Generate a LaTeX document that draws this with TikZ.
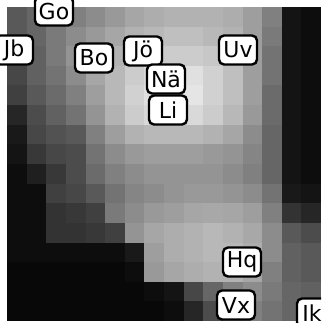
\documentclass[tikz,border=0pt]{standalone}
\usepackage{fontspec}
\setmainfont{DejaVu Sans}
\begin{document}
\begin{tikzpicture}[x=1pt,y=-1pt,
  tag/.style={draw=black, line width=2.4pt, fill=white, rounded corners=5pt,
    minimum width=38pt, minimum height=29pt, inner sep=0pt,
    font=\fontsize{22}{22}\selectfont}]
\useasboundingbox (0,0) rectangle (321,323);
\clip (0,0) rectangle (321,323);
\fill[white] (0,0) rectangle (321,323);
% map cells: brightness in percent of white, 16 x 16 grid
\foreach \row [count=\r from 0] in {
 {35,40,45,50,55,60,65,68,70,70,70,68,62,50,8,5},
 {35,40,48,55,60,65,70,72,75,75,72,70,62,48,8,5},
 {30,38,48,58,65,70,75,78,80,80,78,72,62,45,8,5},
 {28,38,45,55,65,72,80,85,88,88,82,75,62,45,8,5},
 {25,35,42,50,62,72,82,88,92,90,82,75,62,42,8,5},
 {15,30,38,45,58,70,80,85,88,85,80,72,60,42,8,5},
 {10,28,32,35,50,62,70,72,72,72,70,65,55,40,8,5},
 {8,22,28,30,45,55,60,62,62,62,60,58,52,40,8,5},
 {5,12,22,30,42,50,55,58,58,58,58,55,50,40,8,5},
 {5,5,25,28,35,45,52,55,58,60,60,58,55,45,10,8},
 {5,5,20,22,25,48,55,60,62,65,66,65,62,50,20,15},
 {5,5,20,20,22,25,58,65,68,70,72,70,66,55,35,30},
 {5,5,5,5,5,5,10,62,68,70,72,72,68,55,38,35},
 {3,3,3,3,3,3,5,60,65,68,70,70,65,50,38,35},
 {3,3,3,3,3,3,3,5,8,28,40,50,55,48,40,38},
 {3,3,3,3,3,3,3,3,5,15,30,45,50,45,40,38}}
{
  \foreach \v [count=\c from 0] in \row {
    \fill[white!\v!black]
      ({7+19.625*\c},{7+19.625*\r}) rectangle ({7+19.625*(\c+1)+0.4},{7+19.625*(\r+1)+0.4});
  }
}
% labels
\node[tag] (go) at (54,11) {Go};
\node[tag] (jb) at (14,50) {Jb};
\node[tag] (bo) at (94,58) {Bo};
\node[tag] (jo) at (143,51) {Jö};
\node[tag] (na) at (166,79) {Nä};
\node[tag] (li) at (168,110) {Li};
\node[tag] (uv) at (238,50) {Uv};
\node[tag] (hq) at (242,262) {Hq};
\node[tag] (vx) at (236,305) {Vx};
\node[tag, minimum width=30pt] (ik) at (312,313) {Ik};
\end{tikzpicture}
\end{document}
